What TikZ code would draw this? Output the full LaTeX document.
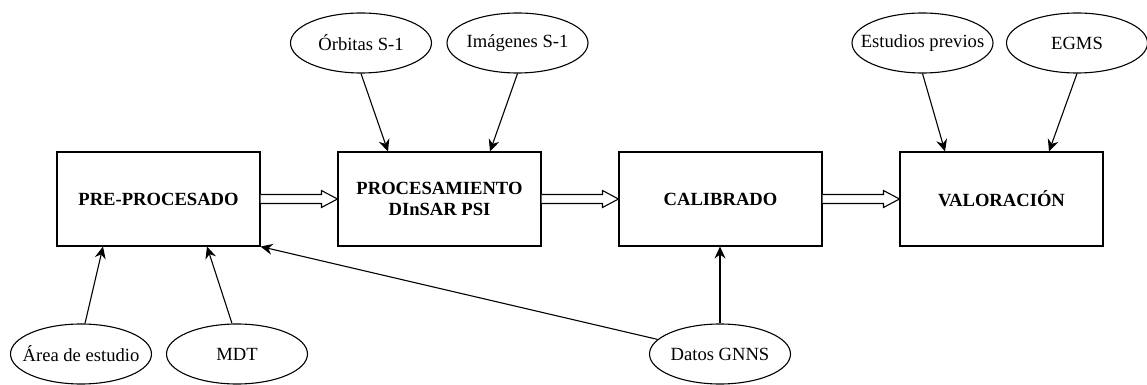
\documentclass[tikz,border=0pt]{standalone}
\usepackage{fontspec}
\setmainfont{Liberation Serif}
\usetikzlibrary{shapes.geometric,arrows.meta,calc}

\newcommand{\flowarrow}[2]{%
  \draw[fill=white] ($(#1.east)+(0,4.5)$) -- ($(#2.west)+(-16,4.5)$) -- ($(#2.west)+(-16,8.5)$) -- (#2.west)
    -- ($(#2.west)+(-16,-8.5)$) -- ($(#2.west)+(-16,-4.5)$) -- ($(#1.east)+(0,-4.5)$);}

\begin{document}
\begin{tikzpicture}[x=1pt,y=1pt,>={Stealth[length=12pt,width=11pt,inset=4pt]},line width=1.1pt,node distance=281,
    every node/.style={font=\fontsize{18.6}{21}\selectfont},
    main box/.style={rectangle,draw,minimum width=203,minimum height=94,align=center,font=\fontsize{18.6}{21}\selectfont\bfseries},
    data node/.style={ellipse,draw,minimum width=141,minimum height=60,inner xsep=-12pt,inner ysep=0pt}]
                \useasboundingbox (-158.5,199) rectangle (988.5,-186);

                \node [main box](1) at (0,0){PRE-PROCESADO};
                \node [main box](2) [right of=1]{PROCESAMIENTO\\DInSAR PSI};
                \node [main box](3) [right of=2]{CALIBRADO};
                \node [main box](4) [right of=3]{VALORACIÓN};

                \node[data node] (5)[node distance=156, above of=2, xshift=-78.5]{Órbitas S-1};
                \node[data node] (6)[node distance=156, above of=2, xshift=78]{Imágenes S-1};
                \node[data node] (7)[node distance=156, above of=4, xshift=-79]{Estudios previos};
                \node[data node] (8)[node distance=156, above of=4, xshift=75.5]{EGMS};

                \node[data node] (9)[node distance=155, below of=1, xshift=-77.5]{Área de estudio};
                \node[data node] (10)[node distance=155, below of=1, xshift=78.5]{MDT};
                \node[data node] (11)[node distance=155, below of=3, xshift=-0.5]{Datos GNNS};

                \flowarrow{1}{2}
                \flowarrow{2}{3}
                \flowarrow{3}{4}

                \path[->]
                    (5.south) edge ([xshift=-51.5]2.north)
                    (6.south) edge ([xshift=50.5]2.north)
                    (7.south) edge ([xshift=-56.5]4.north)
                    (8.south) edge ([xshift=47.5]4.north)

                    ([xshift=4]9.north) edge ([xshift=-55.5]1.south)
                    ([xshift=-5]10.north) edge ([xshift=48.5]1.south)
                    (11) edge (1.south east)
                    (11.north) edge ([xshift=-0.5]3.south)
                    ;
            \end{tikzpicture}
\end{document}
